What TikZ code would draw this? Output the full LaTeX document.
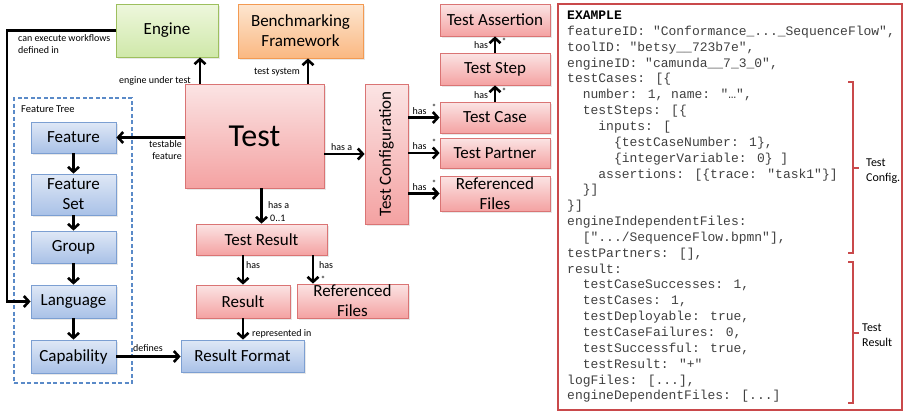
\documentclass[tikz,border=0pt]{standalone}
\usepackage{fontspec}
\setmainfont{Carlito}
\newfontfamily\codefont{Liberation Mono}
\usetikzlibrary{arrows.meta,shadows,calc}

\definecolor{pinktop}{HTML}{FBE4E4}
\definecolor{pinkbot}{HTML}{F4A2A2}
\definecolor{pinkline}{HTML}{DA7474}
\definecolor{bluetop}{HTML}{DFE8F6}
\definecolor{bluebot}{HTML}{A9C1E7}
\definecolor{blueline}{HTML}{7C9FD2}
\definecolor{greentop}{HTML}{EEF7DD}
\definecolor{greenbot}{HTML}{CFE8A9}
\definecolor{greenline}{HTML}{9DBF5E}
\definecolor{orangetop}{HTML}{FDE6D0}
\definecolor{orangebot}{HTML}{FAB882}
\definecolor{orangeline}{HTML}{F39A52}
\definecolor{treeline}{HTML}{5A8AC8}
\definecolor{codered}{HTML}{C9494B}
\definecolor{codegray}{HTML}{404040}

\newcommand\codeline[4]{\node[codetxt] (#1) at (567+#2*7.8, 19.5+#3*15.85) {#4};}

\begin{document}
\begin{tikzpicture}[x=1pt,y=-1pt,
  box/.style={draw, line width=0.8pt, inner sep=1pt, align=center,
    font=\fontsize{17}{20}\selectfont,
    drop shadow={shadow xshift=1.5pt, shadow yshift=-1.5pt, opacity=0.18}},
  pinkbox/.style={box, draw=pinkline, top color=pinktop, bottom color=pinkbot},
  bluebox/.style={box, draw=blueline, top color=bluetop, bottom color=bluebot},
  greenbox/.style={box, draw=greenline, top color=greentop, bottom color=greenbot},
  orangebox/.style={box, draw=orangeline, top color=orangetop, bottom color=orangebot},
  arr/.style={line width=2.6pt, -{Straight Barb[length=5pt,width=11pt]}},
  lbl/.style={font=\fontsize{10}{12}\selectfont, inner sep=0pt},
  starlbl/.style={font=\fontsize{9}{10}\selectfont, inner sep=0pt},
  codetxt/.style={anchor=base west, inner sep=0pt, text=codegray,
    font=\codefont\fontsize{13}{15}\selectfont},
  brace/.style={draw=codered, line width=2.2pt},
  bracelbl/.style={font=\fontsize{12}{15}\selectfont, inner sep=0pt, align=left, anchor=west}
]
\useasboundingbox (0,0) rectangle (904,413);

% ---- top row ----
\node[greenbox, minimum width=102pt, minimum height=53pt] (engine) at (167,30.5) {Engine};
\node[orangebox, minimum width=125pt, minimum height=54pt] (bench) at (300.5,31) {Benchmarking\\Framework};

% ---- central test ----
\node[pinkbox, minimum width=139pt, minimum height=104pt, font=\fontsize{32}{36}\selectfont] (test) at (254.5,136) {Test};

% ---- feature tree ----
\node[draw=treeline, line width=1.3pt, dash pattern=on 4pt off 2.5pt,
  minimum width=118pt, minimum height=285pt, inner sep=0pt] (tree) at (73,240.5) {};
\node[lbl, anchor=west, font=\fontsize{10.5}{12}\selectfont] (treelbl) at (21,109) {Feature Tree};
\node[bluebox, minimum width=85pt, minimum height=31pt] (feature) at (73.5,137.5) {Feature};
\node[bluebox, minimum width=85pt, minimum height=41pt] (fset) at (73.5,194.5) {Feature\\Set};
\node[bluebox, minimum width=85pt, minimum height=32pt] (group) at (73.5,247) {Group};
\node[bluebox, minimum width=85pt, minimum height=33pt] (language) at (73.5,301.5) {Language};
\node[bluebox, minimum width=85pt, minimum height=33pt] (capability) at (73.5,356.5) {Capability};

% ---- results ----
\node[pinkbox, minimum width=131pt, minimum height=31pt] (tres) at (261.5,239.5) {Test Result};
\node[pinkbox, minimum width=94pt, minimum height=33pt] (result) at (243,301.5) {Result};
\node[pinkbox, minimum width=111pt, minimum height=34pt] (refb) at (352.5,301) {Referenced\\Files};
\node[bluebox, minimum width=123pt, minimum height=32pt] (resfmt) at (242.5,356) {Result Format};

% ---- configuration ----
\node[pinkbox, minimum width=43pt, minimum height=140pt] (config) at (386.5,154) {};
\node[rotate=90, inner sep=0pt, font=\fontsize{17}{20}\selectfont] (configtxt) at (config.center) {Test Configuration};
\node[pinkbox, minimum width=110pt, minimum height=32pt] (tassert) at (495,20) {Test Assertion};
\node[pinkbox, minimum width=110pt, minimum height=32pt] (tstep) at (495,69) {Test Step};
\node[pinkbox, minimum width=110pt, minimum height=31pt] (tcase) at (495,117.5) {Test Case};
\node[pinkbox, minimum width=110pt, minimum height=30pt] (tpartner) at (495,153) {Test Partner};
\node[pinkbox, minimum width=110pt, minimum height=35pt] (refr) at (495,193.5) {Referenced\\Files};

% ---- connectors ----
\coordinate (upA) at (200,0);
\coordinate (upB) at (308,0);
\coordinate (fb) at (7,0);
\coordinate (rfx) at (313,0);
\draw[arr] (upA |- test.north) -- (upA |- engine.south);
\draw[arr] (upB |- test.north) -- (upB |- bench.south);
\draw[arr] (test.west |- feature.east) -- (feature.east);
\draw[arr] (engine.west) -- (engine.west -| fb) -- (fb |- language.west) -- (language.west);
\draw[arr] (feature) -- (fset);
\draw[arr] (fset) -- (group);
\draw[arr] (group) -- (language);
\draw[arr] (language) -- (capability);
\draw[arr] (capability.east) -- (capability.east -| resfmt.west);
\draw[arr] (tres.north |- test.south) -- (tres.north);
\draw[arr] (result.north |- tres.south) -- (result.north);
\draw[arr] (rfx |- tres.south) -- (rfx |- refb.north);
\draw[arr] (result.south) -- (result.south |- resfmt.north);
\draw[arr] (test.east |- config.west) -- (config.west);
\draw[arr] (config.east |- tcase.west) -- (tcase.west);
\draw[arr] (config.east |- tpartner.west) -- (tpartner.west);
\draw[arr] (config.east |- refr.west) -- (refr.west);
\draw[arr] (tcase) -- (tstep);
\draw[arr] (tstep) -- (tassert);

% ---- connector labels ----
\node[lbl, anchor=north west, align=left] (lexec) at (18,34) {can execute workflows\\defined in};
\node[lbl, anchor=east] (leut) at (191,81) {engine under test};
\node[lbl, anchor=east] (lts) at (300,72) {test system};
\node[lbl, anchor=north east, align=right] (ltf) at (182,140) {testable\\feature};
\node[lbl, anchor=west] (lhasa) at (331,147) {has a};
\node[lbl, anchor=west] (lhasb) at (268,205) {has a};
\node[lbl, anchor=west] (lzero) at (270,218) {0..1};
\node[lbl] (lh1) at (481,45) {has};
\node[starlbl] (ls1) at (504,41) {*};
\node[lbl] (lh2) at (481,95) {has};
\node[starlbl] (ls2) at (504,91) {*};
\node[lbl] (lh3) at (419.5,111) {has};
\node[starlbl] (ls3) at (434,107) {*};
\node[lbl] (lh4) at (419.5,146) {has};
\node[starlbl] (ls4) at (434,142) {*};
\node[lbl] (lh5) at (419.5,187) {has};
\node[starlbl] (ls5) at (434,183) {*};
\node[lbl] (lh6) at (253,265) {has};
\node[lbl] (lh7) at (326,265) {has};
\node[starlbl] (ls7) at (323,279) {*};
\node[lbl, anchor=west] (lrep) at (252,334) {represented in};
\node[lbl, anchor=west] (ldef) at (133,348) {defines};

% ---- example panel ----
\node[draw=codered, line width=1.5pt, minimum width=344pt, minimum height=406pt, inner sep=0pt] (panel) at (730,207) {};
\codeline{c0}{0}{0}{\textbf{\color{black}EXAMPLE}}
\codeline{c1}{0}{1}{featureID: "Conformance\_...\_SequenceFlow",}
\codeline{c2}{0}{2}{toolID: "betsy\_\_723b7e",}
\codeline{c3}{0}{3}{engineID: "camunda\_\_7\_3\_0",}
\codeline{c4}{0}{4}{testCases: [\{}
\codeline{c5}{2}{5}{number: 1, name: "…",}
\codeline{c6}{2}{6}{testSteps: [\{}
\codeline{c7}{4}{7}{inputs: [}
\codeline{c8}{6}{8}{\{testCaseNumber: 1\},}
\codeline{c9}{6}{9}{\{integerVariable: 0\} ]}
\codeline{c10}{4}{10}{assertions: [\{trace: "task1"\}]}
\codeline{c11}{2}{11}{\}]}
\codeline{c12}{0}{12}{\}]}
\codeline{c13}{0}{13}{engineIndependentFiles:}
\codeline{c14}{2}{14}{[".../SequenceFlow.bpmn"],}
\codeline{c15}{0}{15}{testPartners: [],}
\codeline{c16}{0}{16}{result:}
\codeline{c17}{2}{17}{testCaseSuccesses: 1,}
\codeline{c18}{2}{18}{testCases: 1,}
\codeline{c19}{2}{19}{testDeployable: true,}
\codeline{c20}{2}{20}{testCaseFailures: 0,}
\codeline{c21}{2}{21}{testSuccessful: true,}
\codeline{c22}{2}{22}{testResult: "+"}
\codeline{c23}{0}{23}{logFiles: [...],}
\codeline{c24}{0}{24}{engineDependentFiles: [...]}

% ---- brackets ----
\draw[brace] (848,82) -- (853,82) -- (853,253) -- (848,253);
\draw[brace] (853,168) -- (859,168);
\draw[brace] (848,262) -- (853,262) -- (853,403) -- (848,403);
\draw[brace] (853,333) -- (859,333);
\node[bracelbl] (bcfg) at (866,171) {Test\\Config.};
\node[bracelbl] (bres) at (862,335) {Test\\Result};
\end{tikzpicture}
\end{document}
